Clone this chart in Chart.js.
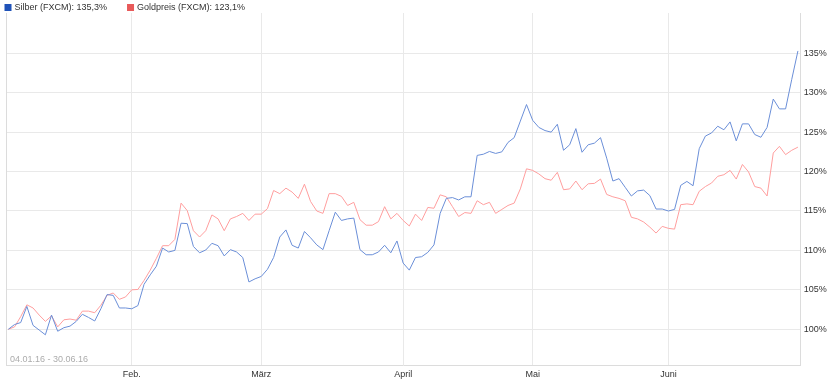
<!DOCTYPE html>
<html>
<head>
<meta charset="utf-8">
<script src="https://cdn.jsdelivr.net/npm/chart.js@4"></script>
<style>
  html, body { margin: 0; padding: 0; background: #ffffff; }
  #wrap { width: 840px; height: 383px; position: relative; }
</style>
</head>
<body>
<div id="wrap"><canvas id="c" width="840" height="383"></canvas></div>
<script>
// ---- data (trading days 04.01.16 - 30.06.16, performance in %) ----
const seriesNames = ['Silber (FXCM)', 'Goldpreis (FXCM)'];
const dateRange = '04.01.16 - 30.06.16';

const silber = [
  100, 100.6, 100.85, 102.9, 100.5, 99.9, 99.3, 101.8, 99.75, 100.2,
  100.4, 101.0, 101.9, 101.5, 101.05, 102.6, 104.4, 104.3, 102.7, 102.7,
  102.6, 103.0, 105.7, 106.9, 108.0, 110.3, 109.8, 110.0, 113.45, 113.4,
  110.5, 109.7, 110.05, 110.9, 110.6, 109.3, 110.1, 109.8, 109.1, 106.0,
  106.4, 106.7, 107.6, 109.1, 111.7, 112.6, 110.65, 110.3, 112.4, 111.6,
  110.7, 110.1, 112.5, 114.85, 113.8, 114.0, 114.1, 110.1, 109.45, 109.45,
  109.8, 110.65, 109.7, 111.2, 108.4, 107.5, 109.1, 109.2, 109.75, 110.7,
  114.7, 116.6, 116.7, 116.4, 116.8, 116.8, 122.05, 122.2, 122.55, 122.3,
  122.5, 123.7, 124.3, 126.4, 128.5, 126.5, 125.6, 125.2, 125.0, 126.0,
  122.7, 123.4, 125.45, 122.45, 123.4, 123.6, 124.3, 121.7, 118.8, 119.1,
  118.0, 116.9, 117.55, 117.65, 116.95, 115.25, 115.25, 115.0, 115.2, 118.25,
  118.75, 118.2, 122.9, 124.5, 124.9, 125.75, 125.3, 126.3, 123.9, 126.05,
  126.05, 124.7, 124.35, 125.6, 129.2, 127.95, 127.95, 131.7, 135.3
];

const gold = [
  100, 100.3, 101.6, 103.1, 102.7, 101.8, 101.0, 101.7, 100.3, 101.2,
  101.3, 101.15, 102.3, 102.3, 102.1, 103.05, 104.3, 104.6, 103.8, 104.1,
  105.0, 105.05, 106.2, 107.5, 109.0, 110.6, 110.6, 111.4, 116.0, 115.05,
  112.5, 111.7, 112.5, 114.5, 114.0, 112.5, 114.0, 114.3, 114.7, 113.8,
  114.6, 114.6, 115.3, 117.6, 117.2, 117.9, 117.4, 116.6, 118.4, 116.2,
  115.0, 114.7, 117.2, 117.2, 116.85, 115.7, 116.1, 113.9, 113.2, 113.2,
  113.65, 115.55, 114.0, 114.7, 113.8, 113.1, 114.6, 113.8, 115.45, 115.35,
  117.05, 116.8, 115.55, 114.3, 114.8, 114.7, 116.3, 115.8, 116.1, 114.7,
  115.2, 115.7, 116.0, 117.8, 120.35, 120.15, 119.7, 119.1, 118.9, 119.9,
  117.7, 117.8, 118.8, 117.7, 118.45, 118.5, 119.05, 117.1, 116.8, 116.6,
  116.3, 114.2, 114.0, 113.6, 112.95, 112.2, 113.05, 112.8, 112.7, 115.8,
  115.9, 115.8, 117.5, 118.1, 118.55, 119.4, 119.6, 120.15, 119.05, 120.9,
  119.95, 118.1, 117.9, 116.9, 122.35, 123.2, 122.15, 122.7, 123.1
];

// first trading day index of each month and its label
const monthStartIdx = [20, 41, 64, 85, 107];
const monthLabels   = ['Feb.', 'März', 'April', 'Mai', 'Juni'];
const yTickValues   = [100, 105, 110, 115, 120, 125, 130, 135];

// ---- styling ----
const FONT = '"Liberation Sans", Arial, Helvetica, sans-serif';
const lineColors = ['#6b8fd8', '#ff9e9e'];
const boxColors  = ['#1f52b8', '#e85a5a'];
const gridColor  = '#e9e9e9';
const borderColor = '#dcdcdc';

function toPoints(arr) { return arr.map((v, i) => ({ x: i, y: v })); }
function fmtPct(v) { return v.toFixed(1).replace('.', ',') + '%'; }

const legendPlugin = {
  id: 'customLegend',
  afterDraw(chart) {
    const ctx = chart.ctx;
    ctx.save();
    ctx.font = '9px ' + FONT;
    ctx.textBaseline = 'middle';
    ctx.textAlign = 'left';
    let x = 4.5;
    chart.data.datasets.forEach((ds, i) => {
      const data = ds.data;
      const last = data[data.length - 1].y;
      const txt = ds.label + ': ' + fmtPct(last);
      ctx.fillStyle = boxColors[i];
      ctx.fillRect(x, 4, 7, 7);
      ctx.fillStyle = '#333333';
      ctx.fillText(txt, x + 10, 7.5);
      x = x + 10 + ctx.measureText(txt).width + 20;
    });
    // date range in plot bottom-left
    ctx.fillStyle = '#acacac';
    ctx.fillText(dateRange, chart.chartArea.left + 3.5, chart.chartArea.bottom - 6);
    ctx.restore();
  }
};

const chart = new Chart(document.getElementById('c'), {
  type: 'line',
  data: {
    datasets: [
      { label: seriesNames[0], data: toPoints(silber), borderColor: lineColors[0], borderWidth: 1,
        pointRadius: 0, tension: 0, fill: false, yAxisID: 'y' },
      { label: seriesNames[1], data: toPoints(gold), borderColor: lineColors[1], borderWidth: 1,
        pointRadius: 0, tension: 0, fill: false, yAxisID: 'y' }
    ]
  },
  options: {
    responsive: false,
    animation: false,
    events: [],
    layout: { padding: { left: 6.5, top: 13, right: 0, bottom: 0 } },
    plugins: { legend: { display: false }, tooltip: { enabled: false } },
    scales: {
      x: {
        type: 'linear',
        min: -0.3,
        max: 128.45,
        afterBuildTicks(scale) { scale.ticks = monthStartIdx.map(v => ({ value: v })); },
        afterFit(scale) { scale.height = 17.3; },
        ticks: {
          autoSkip: false, maxRotation: 0, padding: 3,
          color: '#333333', font: { family: FONT, size: 9 },
          callback(value) { const k = monthStartIdx.indexOf(value); return k >= 0 ? monthLabels[k] : ''; }
        },
        grid: { color: gridColor, drawTicks: false, lineWidth: 1 },
        border: { display: true, color: borderColor, width: 1 }
      },
      y: {
        type: 'linear',
        position: 'right',
        min: 95.38,
        max: 140.11,
        afterBuildTicks(scale) { scale.ticks = yTickValues.map(v => ({ value: v })); },
        afterFit(scale) { scale.width = 39.3; },
        ticks: {
          padding: 3, color: '#333333', font: { family: FONT, size: 9 },
          callback(value) { return value + '%'; }
        },
        grid: { color: gridColor, drawTicks: false, lineWidth: 1 },
        border: { display: true, color: borderColor, width: 1 }
      },
      yLeft: {
        type: 'linear',
        position: 'left',
        min: 95.38,
        max: 140.11,
        afterFit(scale) { scale.width = 0; },
        ticks: { display: false },
        grid: { display: false, drawTicks: false },
        border: { display: true, color: borderColor, width: 1 }
      }
    }
  },
  plugins: [legendPlugin]
});
</script>
</body>
</html>
